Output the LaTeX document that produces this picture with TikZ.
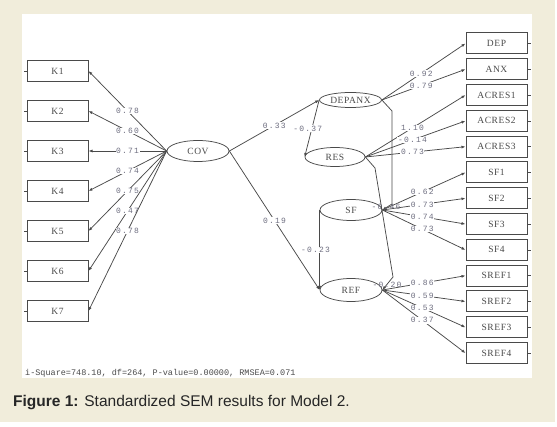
\documentclass[tikz,border=0pt]{standalone}
\usepackage{fontspec}
\setmainfont{Liberation Sans}
\newfontfamily\boxfont[LetterSpace=6]{Liberation Serif}
\newfontfamily\lblfont[LetterSpace=15]{Liberation Mono}
\newfontfamily\statfont{Liberation Mono}
\usetikzlibrary{shapes.geometric,arrows.meta}
\definecolor{beige}{HTML}{F1EDDB}
\definecolor{lineg}{HTML}{4A4A4A}
\definecolor{lblg}{HTML}{6E6E80}
\tikzset{
 obs/.style={draw=lineg,line width=1pt,minimum width=61pt,minimum height=21pt,inner sep=0pt,font=\boxfont\fontsize{9.5}{10}\selectfont,text=lineg},
 lat/.style={ellipse,draw=lineg,line width=0.75pt,minimum width=62pt,inner sep=0pt,font=\boxfont\fontsize{9.5}{10}\selectfont,text=lineg},
 arr/.style={draw=lineg,line width=0.75pt,-{Latex[length=4pt,width=3pt]}},
 lbl/.style={font=\lblfont\fontsize{8}{9}\selectfont,text=lblg,fill=white,inner sep=0.6pt},
 lblc/.style={lbl,fill=none},
 tick/.style={draw=lineg,line width=0.75pt}
}
\begin{document}
\begin{tikzpicture}[x=1pt,y=-1pt]
\useasboundingbox (0,0) rectangle (557,427);
\fill[white] (0,0) rectangle (557,427);
\fill[beige] (0,0) rectangle (555,422);
\fill[white] (22,14) rectangle (532,378);
% left observed
\foreach \i in {1,...,7}{
  \node[obs] (K\i) at (57.5,31+40*\i) {K\i};
  \draw[tick] (K\i.west) -- ++(-3,0);
}
% latent
\node[lat,minimum height=21pt] (COV) at (198,151) {COV};
\node[lat,minimum height=15pt] (DEPANX) at (350.5,100) {DEPANX};
\node[lat,minimum height=19pt,minimum width=60pt] (RES) at (335,157) {RES};
\node[lat,minimum height=21pt] (SF) at (351,210) {SF};
\node[lat,minimum height=23pt] (REF) at (351,290) {REF};
% right observed
\foreach \n [count=\j from 0] in {DEP,ANX,ACRES1,ACRES2,ACRES3,SF1,SF2,SF3,SF4,SREF1,SREF2,SREF3,SREF4}{
  \node[obs] (\n) at (496.5,43.5+25.8*\j) {\n};
  \draw[tick] (\n.east) -- ++(3,0);
}
% COV loadings
\foreach \i/\v in {1/0.78,2/0.60,3/0.71,4/0.74,5/0.75,6/0.47,7/0.78}{
  \draw[arr] (COV.west) -- node[lbl]{\v} (K\i.east);
}
% right loadings
\foreach \b/\v in {DEP/0.92,ANX/0.79}{
  \draw[arr] (DEPANX.east) -- node[lbl,pos=0.47]{\v} (\b.west);
}
\foreach \b/\v in {ACRES1/1.10,ACRES2/-0.14,ACRES3/0.73}{
  \draw[arr] (RES.east) -- node[lbl,pos=0.47]{\v} (\b.west);
}
\foreach \b/\v in {SF1/0.62,SF2/0.73,SF3/0.74,SF4/0.73}{
  \draw[arr] (SF.east) -- node[lbl,pos=0.48]{\v} (\b.west);
}
\foreach \b/\v in {SREF1/0.86,SREF2/0.59,SREF3/0.53,SREF4/0.37}{
  \draw[arr] (REF.east) -- node[lbl,pos=0.48]{\v} (\b.west);
}
% structural paths
\draw[arr] (COV.east) -- node[lbl]{0.33} (DEPANX.west);
\draw[arr] (COV.east) -- node[lbl]{0.19} (REF.west);
\draw[arr] (DEPANX.west) -- node[lbl,xshift=-4pt]{-0.37} (RES.west);
\draw[arr] (SF.west) -- node[lbl,xshift=-4pt]{-0.23} (REF.west);
\coordinate (d1) at (392,111);
\coordinate (d2) at (392,204);
\draw[arr] (DEPANX.east) -- (d1) -- (d2) -- (SF.east);
\node[lblc] (l46) at (386,207) {-0.46};
\coordinate (r1) at (375,168);
\coordinate (r2) at (393,277);
\draw[arr] (RES.east) -- (r1) -- (r2) -- (REF.east);
\node[lblc] (l20) at (387,285) {-0.20};
% stats and caption
\node[anchor=west,font=\statfont\fontsize{8.5}{10}\selectfont,text=lineg,inner sep=0pt] (stat) at (25,373) {i-Square=748.10, df=264, P-value=0.00000, RMSEA=0.071};
\node[anchor=base west,inner sep=0pt,font=\fontsize{15.5}{18}\selectfont,text=black!85] (cap) at (13,407) {\textbf{Figure 1:} Standardized SEM results for Model 2.};
\end{tikzpicture}
\end{document}
